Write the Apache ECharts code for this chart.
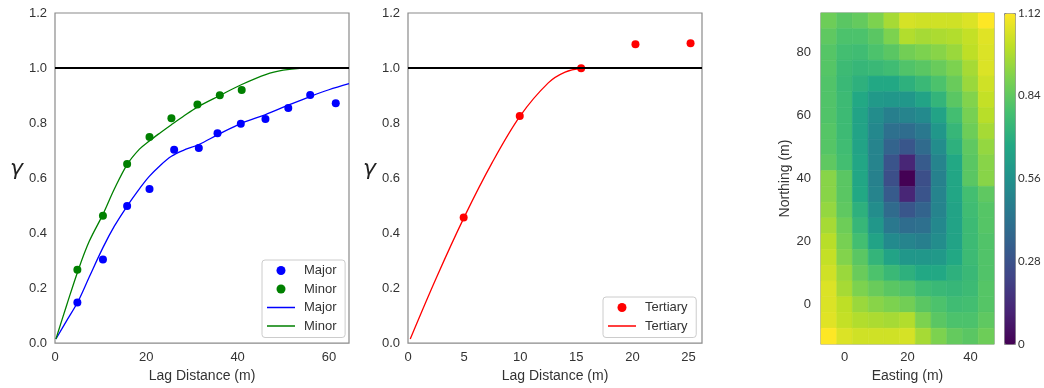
<!DOCTYPE html>
<html><head><meta charset="utf-8">
<script src="https://cdn.jsdelivr.net/npm/echarts@6/dist/echarts.min.js"></script>
<style>html,body{margin:0;padding:0;background:#fff}#c{width:1044px;height:388px}</style>
</head><body><div id="c"></div>
<script>
// ---------- data: left panel (major / minor experimental + model) ----------
const majorLag   = [4.9, 10.5, 15.8, 20.7, 26.1, 31.5, 35.6, 40.7, 46.1, 51.1, 55.9, 61.5];
const majorGamma = [0.148, 0.304, 0.498, 0.560, 0.703, 0.709, 0.763, 0.797, 0.815, 0.855, 0.902, 0.872];
const minorLag   = [4.9, 10.5, 15.8, 20.7, 25.5, 31.2, 36.1, 40.9];
const minorGamma = [0.267, 0.463, 0.651, 0.749, 0.817, 0.867, 0.901, 0.920];
const majorModelLag   = [0.2, 2.5, 5.1, 7.5, 10.5, 13, 15.8, 18, 20.6, 23, 25.5, 28, 31.5, 35.7, 40.8, 46, 51, 56, 60, 64.4];
const majorModelGamma = [0.015, 0.08, 0.153, 0.24, 0.347, 0.425, 0.498, 0.55, 0.605, 0.645, 0.679, 0.70, 0.722, 0.758, 0.799, 0.83, 0.864, 0.897, 0.921, 0.943];
const minorModelLag   = [0.2, 2.5, 5.1, 7.5, 10.5, 13, 15.8, 18.5, 20.6, 23, 25.5, 28, 31.2, 36.1, 40.9, 46.3, 50, 53.6, 57, 64.4];
const minorModelGamma = [0.015, 0.135, 0.266, 0.37, 0.468, 0.56, 0.649, 0.705, 0.734, 0.764, 0.794, 0.823, 0.858, 0.900, 0.940, 0.977, 0.992, 0.999, 1.0, 1.0];
// ---------- data: middle panel (tertiary) ----------
const tertLag   = [4.96, 9.96, 15.43, 20.27, 25.18];
const tertGamma = [0.457, 0.826, 0.999, 1.086, 1.090];
const tertModelLag   = [0.2, 2.5, 5, 7.5, 10, 12.5, 14, 15.5];
const tertModelGamma = [0.015, 0.235, 0.457, 0.656, 0.826, 0.946, 0.985, 1.0];
const sill = 1.0;
// ---------- axis ticks ----------
const leftXTicks = [0, 20, 40, 60];
const midXTicks = [0, 5, 10, 15, 20, 25];
const eastTicks = [0, 20, 40];
const northTicks = [0, 20, 40, 60, 80];
const cbTicks = [0, 0.28, 0.56, 0.84, 1.12];
// ---------- data: variogram map ----------
const eastings = [-5, 0, 5, 10, 15, 20, 25, 30, 35, 40, 45];
const northings = [90, 85, 80, 75, 70, 65, 60, 55, 50, 45, 40, 35, 30, 25, 20, 15, 10, 5, 0, -5, -10];
const mapValues = [
  [0.87,0.83,0.85,0.90,0.97,1.05,1.04,1.04,1.04,1.06,1.12],
  [0.84,0.80,0.80,0.83,0.90,0.99,0.97,0.98,0.99,1.02,1.07],
  [0.82,0.78,0.77,0.80,0.83,0.88,0.90,0.92,0.95,1.01,1.06],
  [0.82,0.76,0.74,0.75,0.77,0.81,0.83,0.86,0.90,0.97,1.06],
  [0.81,0.75,0.71,0.67,0.67,0.71,0.75,0.80,0.86,0.95,1.04],
  [0.81,0.76,0.67,0.60,0.59,0.59,0.65,0.73,0.83,0.91,1.02],
  [0.81,0.76,0.65,0.54,0.48,0.50,0.53,0.65,0.78,0.89,1.00],
  [0.82,0.76,0.65,0.52,0.41,0.40,0.45,0.59,0.74,0.87,0.97],
  [0.82,0.77,0.65,0.50,0.36,0.30,0.39,0.54,0.71,0.84,0.94],
  [0.84,0.78,0.66,0.50,0.29,0.12,0.32,0.50,0.67,0.83,0.92],
  [0.92,0.83,0.66,0.49,0.27,0.00,0.27,0.49,0.66,0.83,0.92],
  [0.92,0.83,0.67,0.50,0.32,0.12,0.29,0.50,0.66,0.78,0.84],
  [0.94,0.84,0.71,0.54,0.39,0.30,0.36,0.50,0.65,0.77,0.82],
  [0.97,0.87,0.74,0.59,0.45,0.40,0.41,0.52,0.65,0.76,0.82],
  [1.00,0.89,0.78,0.65,0.53,0.50,0.48,0.54,0.65,0.76,0.81],
  [1.02,0.91,0.83,0.73,0.65,0.59,0.59,0.60,0.67,0.76,0.81],
  [1.04,0.95,0.86,0.80,0.75,0.71,0.67,0.67,0.71,0.75,0.81],
  [1.06,0.97,0.90,0.86,0.83,0.81,0.77,0.75,0.74,0.76,0.82],
  [1.06,1.01,0.95,0.92,0.90,0.88,0.83,0.80,0.77,0.78,0.82],
  [1.07,1.02,0.99,0.98,0.97,0.99,0.90,0.83,0.80,0.80,0.84],
  [1.12,1.06,1.04,1.04,1.04,1.05,0.97,0.90,0.85,0.83,0.87]
];
const viridis = ['#440154','#482475','#414487','#355f8d','#2a788e','#21918c','#22a884','#44bf70','#7ad151','#bddf26','#fde725'];

// ---------- build ----------
const zip = (a, b) => a.map((v, i) => [v, b[i]]);
const cells = [];
northings.forEach((n, r) => eastings.forEach((e, c) => cells.push([e, n, mapValues[r][c]])));
const dE = eastings[1] - eastings[0];
const dN = northings[0] - northings[1];

const FONT = 'Liberation Sans, Arial, sans-serif';
const TXT = '#333';
const FRAME = '#8a8a8a';
// thin horizontal line legend icon (bounding box 28 x 9)
const LINE_ICON = 'path://M0,0h0.05v0.05h-0.05z M0,3.85h28v1.3h-28z M27.95,8.95h0.05v0.05h-0.05z';

function gridBox(left, width) {
  return { left: left, top: 13, width: width, height: 331, show: true, borderColor: FRAME, borderWidth: 1.2, backgroundColor: 'transparent', containLabel: false };
}
function xAx(gi, min, max, ticks, name, margin) {
  return {
    type: 'value', gridIndex: gi, min: min, max: max,
    name: name, nameLocation: 'middle', nameGap: 24,
    nameTextStyle: { color: TXT, fontSize: 14, fontFamily: FONT },
    axisLine: { show: false }, axisTick: { show: false }, splitLine: { show: false },
    axisLabel: { customValues: ticks, color: TXT, fontSize: 13, fontFamily: FONT, margin: margin }
  };
}
function yGamma(gi) {
  return {
    type: 'value', gridIndex: gi, min: 0, max: 1.2, interval: 0.2,
    axisLine: { show: false }, axisTick: { show: false }, splitLine: { show: false },
    axisLabel: { color: TXT, fontSize: 13, fontFamily: FONT, margin: 8, formatter: v => v.toFixed(1) }
  };
}
const sillLine = {
  silent: true, symbol: ['none', 'none'], label: { show: false },
  lineStyle: { color: '#000', width: 2, type: 'solid' }, emphasis: { disabled: true },
  data: [{ yAxis: sill }]
};
function legendBox(left, top, names) {
  return {
    orient: 'vertical', left: left, top: top, data: names,
    itemWidth: 28, itemHeight: 9, itemGap: 5.5,
    padding: [4, 5, 5, 5],
    backgroundColor: 'rgba(255,255,255,0.85)', borderColor: '#cccccc', borderWidth: 1, borderRadius: 3,
    textStyle: { color: TXT, fontSize: 13, fontFamily: FONT, padding: [0, 0, 0, 4] },
    selectedMode: false
  };
}

const option = {
  animation: false,
  backgroundColor: '#fff',
  graphic: [
    { type: 'text', left: 10, top: 158, silent: true,
      style: { text: 'γ', fill: '#222', font: 'italic 22px DejaVu Sans' } },
    { type: 'text', left: 363, top: 158, silent: true,
      style: { text: 'γ', fill: '#222', font: 'italic 22px DejaVu Sans' } }
  ],
  grid: [gridBox(55, 294), gridBox(408, 294), gridBox(821, 173),
         { left: 1004, top: 13, width: 11, height: 331, show: false }],
  xAxis: [
    xAx(0, 0, 64.4, leftXTicks, 'Lag Distance (m)', 8),
    xAx(1, 0, 26.2, midXTicks, 'Lag Distance (m)', 8),
    xAx(2, eastings[0] - dE / 2, eastings[eastings.length - 1] + dE / 2, eastTicks, 'Easting (m)', 7),
    { type: 'value', gridIndex: 3, show: false, min: 0, max: 1 }
  ],
  yAxis: [
    yGamma(0), yGamma(1),
    {
      type: 'value', gridIndex: 2, min: northings[northings.length - 1] - dN / 2, max: northings[0] + dN / 2,
      name: 'Northing (m)', nameLocation: 'middle', nameGap: 28,
      nameTextStyle: { color: TXT, fontSize: 14, fontFamily: FONT },
      axisLine: { show: false }, axisTick: { show: false }, splitLine: { show: false },
      axisLabel: { customValues: northTicks, color: TXT, fontSize: 13, fontFamily: FONT, margin: 10 }
    },
    {
      type: 'value', gridIndex: 3, position: 'right', min: 0, max: 1.12,
      axisLine: { show: false }, axisTick: { show: false }, splitLine: { show: false },
      axisLabel: { customValues: cbTicks, color: TXT, fontSize: 11.5, fontFamily: 'Lato, ' + FONT, margin: 3,
        formatter: v => (v === 0 ? '0' : v.toFixed(2)) }
    }
  ],
  legend: [
    legendBox(262, 260, ['Major', 'Minor', { name: 'Major ', icon: LINE_ICON }, { name: 'Minor ', icon: LINE_ICON }]),
    legendBox(603, 297, ['Tertiary', { name: 'Tertiary ', icon: LINE_ICON }])
  ],
  visualMap: {
    type: 'continuous', min: 0, max: 1.12, seriesIndex: 7, dimension: 2,
    inRange: { color: viridis },
    left: 1004, top: 13, itemWidth: 11, itemHeight: 331, calculable: false,
    padding: 0, borderColor: FRAME, borderWidth: 1, text: null, hoverLink: false
  },
  series: [
    { name: 'Major', type: 'scatter', xAxisIndex: 0, yAxisIndex: 0, data: zip(majorLag, majorGamma),
      symbol: 'circle', symbolSize: 8, itemStyle: { color: '#0000ff', opacity: 1 }, z: 4 },
    { name: 'Minor', type: 'scatter', xAxisIndex: 0, yAxisIndex: 0, data: zip(minorLag, minorGamma),
      symbol: 'circle', symbolSize: 8, itemStyle: { color: '#008000', opacity: 1 }, z: 4 },
    { name: 'Major ', type: 'line', xAxisIndex: 0, yAxisIndex: 0, data: zip(majorModelLag, majorModelGamma),
      symbol: 'none', smooth: 0.35, lineStyle: { color: '#0000ff', width: 1.3 }, itemStyle: { color: '#0000ff' }, z: 3,
      markLine: sillLine },
    { name: 'Minor ', type: 'line', xAxisIndex: 0, yAxisIndex: 0, data: zip(minorModelLag, minorModelGamma),
      symbol: 'none', smooth: 0.35, lineStyle: { color: '#008000', width: 1.3 }, itemStyle: { color: '#008000' }, z: 3 },
    { name: 'Tertiary', type: 'scatter', xAxisIndex: 1, yAxisIndex: 1, data: zip(tertLag, tertGamma),
      symbol: 'circle', symbolSize: 8, itemStyle: { color: '#ff0000', opacity: 1 }, z: 4 },
    { name: 'Tertiary ', type: 'line', xAxisIndex: 1, yAxisIndex: 1, data: zip(tertModelLag, tertModelGamma),
      symbol: 'none', smooth: 0.35, lineStyle: { color: '#ff0000', width: 1.3 }, itemStyle: { color: '#ff0000' }, z: 3,
      markLine: sillLine },
    { type: 'line', xAxisIndex: 3, yAxisIndex: 3, data: [], silent: true },
    { name: 'map', type: 'custom', xAxisIndex: 2, yAxisIndex: 2, data: cells,
      encode: { x: 0, y: 1 }, silent: true,
      renderItem: function (params, api) {
        const x = api.value(0), y = api.value(1);
        const p0 = api.coord([x - dE / 2, y + dN / 2]);
        const p1 = api.coord([x + dE / 2, y - dN / 2]);
        const col = api.visual('color');
        return { type: 'rect', shape: { x: p0[0], y: p0[1], width: p1[0] - p0[0], height: p1[1] - p0[1] },
                 style: { fill: col, stroke: col, lineWidth: 0.6 } };
      }
    }
  ]
};
const chart = echarts.init(document.getElementById('c'), null, { renderer: 'canvas' });
chart.setOption(option);
</script>
</body></html>
